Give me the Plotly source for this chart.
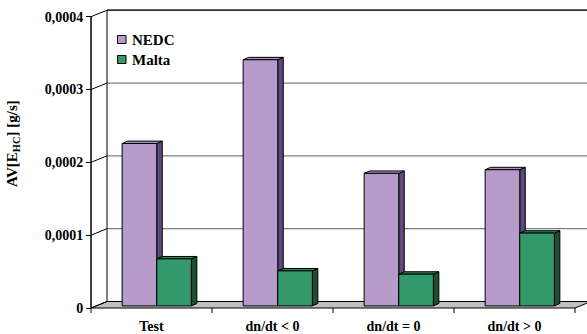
import plotly.graph_objects as go

# ---- data -------------------------------------------------------------
categories = ["Test", "dn/dt < 0", "dn/dt = 0", "dn/dt > 0"]
series_names = ["NEDC", "Malta"]
nedc = [0.000223, 0.000338, 0.000182, 0.000187]
malta = [0.0000646, 0.0000481, 0.0000436, 0.0001]
y_ticks = [0, 0.0001, 0.0002, 0.0003, 0.0004]
y_tick_labels = ["0", "0,0001", "0,0002", "0,0003", "0,0004"]

# ---- geometry (pixels) -----------------------------------------------
W, H = 587, 334
MB = 18                 # bottom margin holding the category labels
PLOT_H = H - MB
X0_PX = 91              # front plane: left edge (category -0.5)
CAT_PX = 121            # width of one category
Y0_PX = 308             # front plane: value 0
YTOP_PX = 16.7          # front plane: top tick value
Y_MAX_TICK = y_ticks[-1]
KY = Y_MAX_TICK / (Y0_PX - YTOP_PX)   # value units per pixel

XMIN = -0.5 - X0_PX / CAT_PX
XMAX = -0.5 + (W - X0_PX) / CAT_PX
YMIN = -(PLOT_H - Y0_PX) * KY
YMAX = Y0_PX * KY


def dx(px):
    return px / CAT_PX


def dy(px):
    return px * KY


def X(px):
    return XMIN + px / CAT_PX


def Y(py):
    return YMAX - py * KY


WALL = (dx(16), dy(6.5))        # depth of the floor / back wall
SHIFT = (dx(5.25), dy(2.1))     # bars stand in the middle of the floor
DEPTH = (dx(5.5), dy(2.4))      # depth of each column
BAR_W = dx(34.6)

FONT = "Liberation Serif"
colors = {
    "NEDC": dict(front="#B79CCB", side="#5E4A80", top="#A88FC0"),
    "Malta": dict(front="#33996A", side="#1D4D34", top="#2C8259"),
}

x_pos = list(range(len(categories)))
x_lo, x_hi = -0.5, len(categories) - 0.5

shapes = []


def path(points):
    return "M " + " L ".join(f"{px},{py}" for px, py in points) + " Z"


def bold(s):
    return f"<b>{s}</b>"


# floor
shapes.append(dict(
    type="path", xref="x", yref="y", layer="below",
    path=path([(x_lo, 0), (x_hi, 0), (x_hi + WALL[0], WALL[1]), (x_lo + WALL[0], WALL[1])]),
    fillcolor="#C0C0C0", line=dict(color="black", width=1),
))

# back-wall gridlines
for t in y_ticks[1:-1]:
    shapes.append(dict(
        type="line", xref="x", yref="y", layer="below",
        x0=x_lo + WALL[0], x1=x_hi + WALL[0], y0=t + WALL[1], y1=t + WALL[1],
        line=dict(color="#7F7F7F", width=1.2),
    ))
# back-wall top edge
shapes.append(dict(
    type="line", xref="x", yref="y", layer="below",
    x0=x_lo + WALL[0], x1=x_hi + WALL[0], y0=Y_MAX_TICK + WALL[1], y1=Y_MAX_TICK + WALL[1],
    line=dict(color="#333333", width=1.8),
))
# back-wall left edge
shapes.append(dict(
    type="line", xref="x", yref="y", layer="below",
    x0=x_lo + WALL[0], x1=x_lo + WALL[0], y0=WALL[1], y1=Y_MAX_TICK + WALL[1],
    line=dict(color="black", width=1),
))
# side-wall diagonals at each tick
for t in y_ticks:
    shapes.append(dict(
        type="line", xref="x", yref="y", layer="below",
        x0=x_lo, x1=x_lo + WALL[0], y0=t, y1=t + WALL[1],
        line=dict(color="black", width=1),
    ))
# front value axis
shapes.append(dict(
    type="line", xref="x", yref="y", layer="below",
    x0=x_lo, x1=x_lo, y0=0, y1=Y_MAX_TICK,
    line=dict(color="black", width=1.5),
))
# category ticks on the front edge of the floor
for i in range(len(categories) + 1):
    xt = x_lo + i
    shapes.append(dict(
        type="line", xref="x", yref="y", layer="below",
        x0=xt, x1=xt, y0=0, y1=-dy(5),
        line=dict(color="black", width=1),
    ))

# 3D side and top faces of the columns
offsets = {"NEDC": SHIFT[0] - BAR_W, "Malta": SHIFT[0]}
for name, vals in (("NEDC", nedc), ("Malta", malta)):
    c = colors[name]
    for xc, v in zip(x_pos, vals):
        xl = xc + offsets[name]
        xr = xl + BAR_W
        yb = SHIFT[1]
        yt = SHIFT[1] + v
        shapes.append(dict(
            type="path", xref="x", yref="y", layer="below",
            path=path([(xr, yb), (xr, yt), (xr + DEPTH[0], yt + DEPTH[1]), (xr + DEPTH[0], yb + DEPTH[1])]),
            fillcolor=c["side"], line=dict(color="black", width=1),
        ))
        shapes.append(dict(
            type="path", xref="x", yref="y", layer="below",
            path=path([(xl, yt), (xr, yt), (xr + DEPTH[0], yt + DEPTH[1]), (xl + DEPTH[0], yt + DEPTH[1])]),
            fillcolor=c["top"], line=dict(color="black", width=1),
        ))

fig = go.Figure()
for name, vals in (("NEDC", nedc), ("Malta", malta)):
    fig.add_trace(go.Bar(
        name=name, x=x_pos, y=vals,
        base=[SHIFT[1]] * len(vals),
        width=BAR_W, offset=offsets[name],
        marker=dict(color=colors[name]["front"], line=dict(color="black", width=1)),
        showlegend=False, hoverinfo="skip",
    ))

# legend: colour boxes with labels
annotations = []
legend_rows = [39.5, 59.5]
for name, row in zip(series_names, legend_rows):
    shapes.append(dict(
        type="rect", xref="x", yref="y", layer="above",
        x0=X(117.5), x1=X(126), y0=Y(row - 4), y1=Y(row + 4),
        fillcolor=colors[name]["front"], line=dict(color="black", width=1),
    ))
    annotations.append(dict(
        xref="x", yref="y", x=X(129.5), y=Y(row), xanchor="left", yanchor="middle",
        text=bold(name), showarrow=False,
        font=dict(family=FONT, size=15, color="black"),
    ))

# value-axis title (each run bolded separately so the subscript keeps the weight)
annotations.append(dict(
    xref="x", yref="y", x=X(13), y=Y(144), xanchor="center", yanchor="middle",
    text="<b>AV[E</b><sub><b>HC</b></sub><b>] [g/s]</b>", textangle=-90, showarrow=False,
    font=dict(family=FONT, size=15, color="black"),
))

fig.update_layout(
    width=W, height=H,
    margin=dict(l=0, r=0, t=0, b=MB),
    paper_bgcolor="white", plot_bgcolor="white",
    barmode="overlay",
    shapes=shapes, annotations=annotations,
    showlegend=False,
    xaxis=dict(
        range=[XMIN, XMAX], tickvals=x_pos, ticktext=[bold(c) for c in categories],
        showgrid=False, zeroline=False, showline=False, ticks="",
        tickfont=dict(family=FONT, size=14, color="black"),
        fixedrange=True,
    ),
    yaxis=dict(
        range=[YMIN, YMAX], tickvals=y_ticks, ticktext=[bold(s) for s in y_tick_labels],
        anchor="free", position=X0_PX / W,
        showgrid=False, zeroline=False, showline=False,
        ticks="outside", ticklen=5, tickwidth=1, tickcolor="black",
        tickfont=dict(family=FONT, size=14, color="black"),
        fixedrange=True,
    ),
)

fig.write_html("out.html")
